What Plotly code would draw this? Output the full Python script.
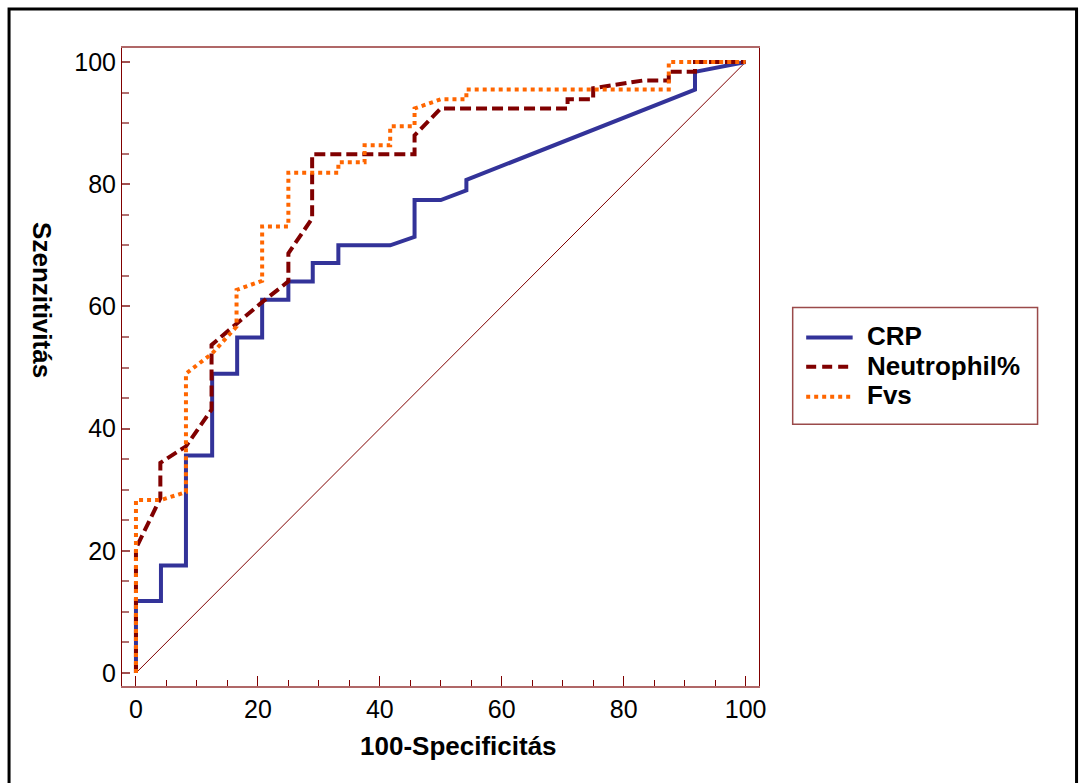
import plotly.graph_objects as go

# ---- data ----
crp_x = [0, 0, 4.1, 4.1, 8.2, 8.2, 12.5, 12.5, 16.6, 16.6, 20.7, 20.7, 25.0, 25.0,
         29.0, 29.0, 33.2, 33.2, 41.7, 45.7, 45.7, 50.0, 54.2, 54.2, 91.7, 91.7, 100]
crp_y = [0, 11.8, 11.8, 17.6, 17.6, 35.6, 35.6, 49.0, 49.0, 54.9, 54.9, 61.1, 61.1, 64.1,
         64.1, 67.1, 67.1, 70.0, 70.0, 71.4, 77.4, 77.4, 79.0, 80.7, 95.5, 98.4, 100]

neut_x = [0, 0, 4.0, 4.0, 8.2, 12.4, 12.4, 16.6, 20.7, 25.0, 25.0, 28.9, 28.9, 45.7,
          45.7, 50.0, 70.8, 70.8, 75.0, 75.0, 83.3, 87.4, 87.4, 91.7, 91.7, 100]
neut_y = [0, 20.4, 28.6, 34.4, 37.1, 43.1, 53.7, 57.3, 60.7, 64.1, 68.7, 74.4, 84.9, 84.9,
          88.0, 92.4, 92.4, 93.9, 93.9, 95.7, 97.0, 97.0, 98.4, 98.4, 100, 100]

fvs_x = [0, 0, 4.0, 8.2, 8.2, 12.5, 16.5, 16.5, 20.7, 20.7, 25.0, 25.0, 33.2, 33.2,
         37.5, 37.5, 41.7, 41.7, 45.7, 45.7, 50.0, 54.2, 54.2, 87.4, 87.4, 100]
fvs_y = [0, 28.3, 28.3, 29.6, 49.0, 52.3, 56.7, 62.7, 64.2, 73.1, 73.1, 81.9, 81.9, 83.6,
         83.6, 86.4, 86.4, 89.5, 89.5, 92.4, 93.9, 93.9, 95.5, 95.5, 100, 100]

diag_x = [0, 100]
diag_y = [0, 100]

series_names = ["CRP", "Neutrophil%", "Fvs"]
series_colors = ["#333399", "#800000", "#ff6600"]
series_dash = ["solid", "11px,5px", "4px,4px"]
legend_dash = ["solid", "10px,6px", "4px,4px"]
tick_vals = [0, 20, 40, 60, 80, 100]
tick_text = ["0", "20", "40", "60", "80", "100"]
x_title = "100-Specificitás"
y_title = "Szenzitivitás"

FONT = "Liberation Sans, Arial, sans-serif"

fig = go.Figure()
fig.add_trace(go.Scatter(x=diag_x, y=diag_y, mode="lines", showlegend=False,
                         line=dict(color="#800000", width=1), hoverinfo="skip"))
for xs, ys, nm, col, ds in zip([crp_x, neut_x, fvs_x], [crp_y, neut_y, fvs_y],
                               series_names, series_colors, series_dash):
    fig.add_trace(go.Scatter(x=xs, y=ys, mode="lines", name=nm, showlegend=False,
                             line=dict(color=col, width=4, dash=ds)))

# geometry (page body margin removed via post_script, so no offset)
OFF = 0
W, H = 1080 - OFF, 783 - OFF
L, T = 122 - OFF, 48 - OFF
R = W - (759.3 - OFF)
B = H - (685.7 - OFF)
PW, PH = W - L - R, H - T - B


def px(xr):
    """reference-image pixel x -> paper coordinate"""
    return (xr - OFF - L) / PW


def py(yr):
    """reference-image pixel y -> paper coordinate"""
    return (H - B - (yr - OFF)) / PH


bold = dict(family=FONT, size=26, color="black", weight="bold")

annotations = [
    dict(text=x_title, xref="paper", yref="paper", x=px(459), y=py(746),
         xanchor="center", yanchor="middle", showarrow=False, font=bold),
    dict(text=y_title, xref="paper", yref="paper", x=px(42), y=py(300),
         xanchor="center", yanchor="middle", showarrow=False, textangle=90,
         font=bold),
]
shapes = [
    dict(type="rect", xref="paper", yref="paper",
         x0=px(793), x1=px(1038), y0=py(424), y1=py(307.5),
         line=dict(color="#9a4a4a", width=1.5), fillcolor="rgba(0,0,0,0)"),
    dict(type="rect", xref="paper", yref="paper",
         x0=px(9), x1=px(1077), y0=py(800), y1=py(9),
         line=dict(color="black", width=3), fillcolor="rgba(0,0,0,0)",
         layer="below"),
]

# legend (key lines + labels)
key_line_y = [337.3, 366.7, 396.7]
key_text_y = [336, 365.5, 394.5]
for nm, col, ds, ly, ty in zip(series_names, series_colors, legend_dash,
                               key_line_y, key_text_y):
    shapes.append(dict(type="line", xref="paper", yref="paper",
                       x0=px(806.5), x1=px(853), y0=py(ly), y1=py(ly),
                       line=dict(color=col, width=4, dash=ds)))
    annotations.append(dict(text=nm, xref="paper", yref="paper", x=px(865),
                            y=py(ty), xanchor="left", yanchor="middle",
                            showarrow=False, font=bold))

fig.update_layout(
    width=W, height=H,
    margin=dict(l=L, r=R, t=T, b=B, pad=0),
    paper_bgcolor="white", plot_bgcolor="white",
    font=dict(family=FONT, color="black", size=25),
    hovermode=False,
    showlegend=False,
    xaxis=dict(range=[-2.29, 102.2], tickvals=tick_vals, ticktext=tick_text,
               ticks="inside", ticklen=10, tickwidth=1, tickcolor="#800000",
               showline=True, linecolor="#b06868", linewidth=2, mirror=True,
               showgrid=False, zeroline=False,
               tickfont=dict(size=25, family=FONT, color="black"),
               minor=dict(dtick=5, tick0=0, ticks="inside", ticklen=6,
                          tickwidth=1, tickcolor="#800000", showgrid=False)),
    yaxis=dict(range=[-2.13, 102.3], tickvals=tick_vals, ticktext=tick_text,
               ticks="inside", ticklen=8, tickwidth=1.5, tickcolor="#a05050",
               showline=True, linecolor="#800000", linewidth=1, mirror=True,
               showgrid=False, zeroline=False,
               tickfont=dict(size=25, family=FONT, color="black"),
               minor=dict(dtick=5, tick0=0, ticks="inside", ticklen=7,
                          tickwidth=1.5, tickcolor="#b07070", showgrid=False)),
    annotations=annotations,
    shapes=shapes,
)

fig.write_html("out.html", config={"displayModeBar": False},
               post_script="document.body.style.margin='0';"
                           "document.body.style.overflow='hidden';")
